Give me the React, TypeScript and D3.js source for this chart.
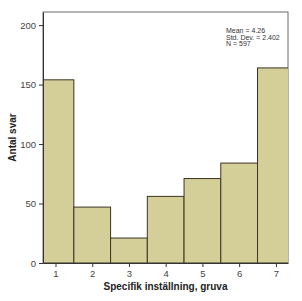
import { useRef, useEffect } from 'react';
import * as d3 from 'd3';

// Histogram counts per answer value
const categories = [1, 2, 3, 4, 5, 6, 7];
const counts = [154, 47, 21, 56, 71, 84, 164];
const yTicks = [0, 50, 100, 150, 200];
const statLines = ["Mean = 4.26", "Std. Dev. = 2.402", "N = 597"];

export default function App() {
  const ref = useRef<SVGSVGElement>(null);

  useEffect(() => {
    if (!ref.current) return;
    const width = 302;
    const height = 301;
    const margin = { top: 12, right: 14, bottom: 38, left: 43 };
    const font = "Liberation Sans, Arial, sans-serif";

    const svg = d3.select(ref.current)
      .attr('width', width)
      .attr('height', height);
    svg.selectAll("*").remove();

    const x = d3.scaleLinear()
      .domain([0.66, 7.33])
      .range([margin.left, width - margin.right]);

    const y = d3.scaleLinear()
      .domain([0, 211])
      .range([height - margin.bottom, margin.top]);

    const data = categories.map((c, i) => ({ c, n: counts[i] }));

    // plot frame
    svg.append("rect")
      .attr("x", margin.left)
      .attr("y", margin.top)
      .attr("width", width - margin.left - margin.right)
      .attr("height", height - margin.top - margin.bottom)
      .attr("fill", "white")
      .attr("stroke", "#6b6b6b")
      .attr("stroke-width", 1);

    svg.append("clipPath").attr("id", "plotclip")
      .append("rect")
      .attr("x", margin.left)
      .attr("y", margin.top)
      .attr("width", width - margin.left - margin.right)
      .attr("height", height - margin.top - margin.bottom);

    // bars
    svg.append("g")
      .attr("clip-path", "url(#plotclip)")
      .selectAll("rect")
      .data(data)
      .join("rect")
      .attr("x", d => x(d.c - 0.5))
      .attr("y", d => y(d.n))
      .attr("width", d => x(d.c + 0.5) - x(d.c - 0.5))
      .attr("height", d => y(0) - y(d.n))
      .attr("fill", "#d4cf98")
      .attr("stroke", "#3d3524")
      .attr("stroke-width", 1);

    // axes
    const xAxis = svg.append("g")
      .attr("transform", `translate(0,${y(0)})`)
      .call(d3.axisBottom(x).tickValues(categories).tickSize(4).tickSizeOuter(0).tickFormat(d3.format("d")));
    xAxis.select(".domain").attr("stroke", "#333");
    xAxis.selectAll("line").attr("stroke", "#333");
    xAxis.selectAll("text")
      .attr("font-family", font)
      .attr("font-size", 9.5)
      .attr("fill", "#444");

    const yAxis = svg.append("g")
      .attr("transform", `translate(${margin.left},0)`)
      .call(d3.axisLeft(y).tickValues(yTicks).tickSize(4).tickSizeOuter(0));
    yAxis.select(".domain").attr("stroke", "#333");
    yAxis.selectAll("line").attr("stroke", "#333");
    yAxis.selectAll("text")
      .attr("font-family", font)
      .attr("font-size", 9.5)
      .attr("fill", "#444");

    // axis titles
    svg.append("text")
      .attr("x", (margin.left + width - margin.right) / 2)
      .attr("y", 290)
      .attr("text-anchor", "middle")
      .attr("font-family", font)
      .attr("font-weight", "bold")
      .attr("font-size", 10)
      .attr("fill", "#222")
      .text("Specifik inställning, gruva");

    svg.append("text")
      .attr("transform", `translate(16,${(margin.top + height - margin.bottom) / 2}) rotate(-90)`)
      .attr("text-anchor", "middle")
      .attr("font-family", font)
      .attr("font-weight", "bold")
      .attr("font-size", 10)
      .attr("fill", "#222")
      .text("Antal svar");

    // stats box
    svg.append("g")
      .selectAll("text")
      .data(statLines)
      .join("text")
      .attr("x", 226)
      .attr("y", (_, i) => 33 + i * 6.5)
      .attr("font-family", font)
      .attr("font-size", 7)
      .attr("fill", "#333")
      .text(d => d);
  }, []);

  return (
    <svg ref={ref} style={{ position: 'absolute', left: 0, top: 0 }}></svg>
  );
}
